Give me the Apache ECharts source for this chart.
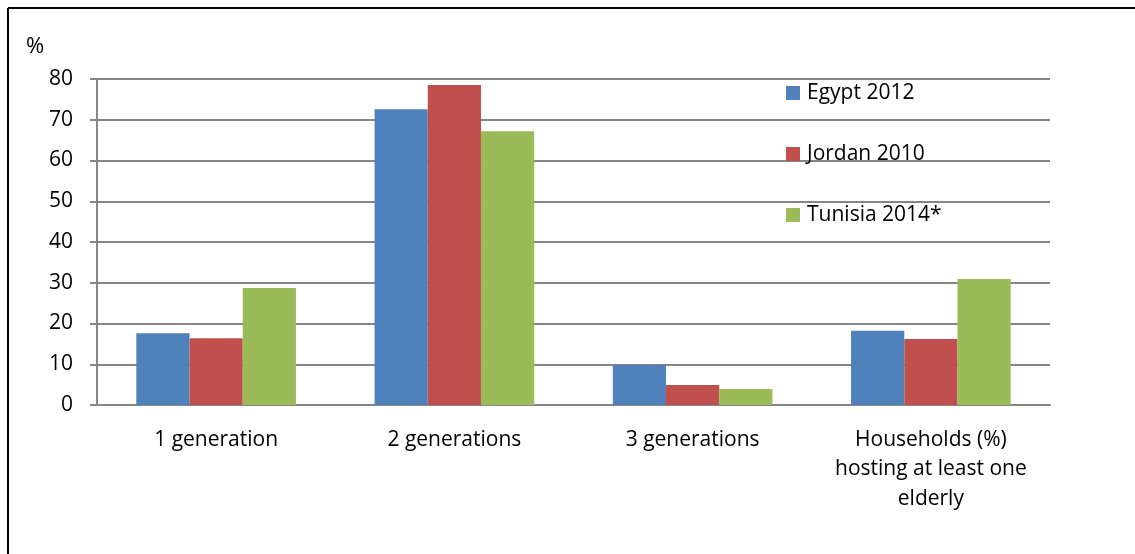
<!DOCTYPE html>
<html>
<head>
<meta charset="utf-8">
<script src="https://cdn.jsdelivr.net/npm/echarts@6/dist/echarts.min.js"></script>
<style>
  html, body { margin: 0; padding: 0; background: #fff; }
  #box { width: 1135px; height: 554px; }
</style>
</head>
<body>
<div id="box"></div>
<script>
  // data
  var categories = ['1 generation', '2 generations', '3 generations', 'Households (%)\nhosting at least one\nelderly'];
  var egypt = [17.6, 72.6, 9.8, 18.2];
  var jordan = [16.4, 78.5, 4.9, 16.2];
  var tunisia = [28.7, 67.2, 3.9, 30.9];
  var yTicks = [0, 10, 20, 30, 40, 50, 60, 70, 80];

  var font = '"Open Sans", Lato, sans-serif';
  var fs = 21;
  var chart = echarts.init(document.getElementById('box'));

  var option = {
    animation: false,
    color: ['#4F81BD', '#C0504D', '#9BBB59'],
    textStyle: { fontFamily: font },
    grid: { left: 97, right: 85, top: 79, bottom: 149, containLabel: false },
    legend: {
      orient: 'vertical',
      left: 786,
      top: 82,
      padding: 0,
      itemWidth: 14,
      itemHeight: 14,
      itemGap: 39,
      icon: 'rect',
      textStyle: { fontSize: fs, lineHeight: 22, color: '#000', fontFamily: font, padding: [0, 0, 0, 2] },
      data: ['Egypt 2012', 'Jordan 2010', 'Tunisia 2014*']
    },
    xAxis: {
      type: 'category',
      data: categories,
      axisLine: { lineStyle: { color: '#868686', width: 2 } },
      axisTick: { show: false },
      axisLabel: { color: '#000', fontSize: fs, margin: 20, lineHeight: 29.5, fontFamily: font, interval: 0 }
    },
    yAxis: {
      type: 'value',
      min: yTicks[0],
      max: yTicks[yTicks.length - 1],
      interval: 10,
      axisLine: { show: true, lineStyle: { color: '#868686', width: 2 } },
      axisTick: { show: true, length: 7, lineStyle: { color: '#868686', width: 2 } },
      axisLabel: { color: '#000', fontSize: fs, margin: 24, fontFamily: font },
      splitLine: { lineStyle: { color: '#868686', width: 2 } }
    },
    series: [
      { name: 'Egypt 2012', type: 'bar', data: egypt, barGap: 0, barCategoryGap: '33%' },
      { name: 'Jordan 2010', type: 'bar', data: jordan, barGap: 0, barCategoryGap: '33%' },
      { name: 'Tunisia 2014*', type: 'bar', data: tunisia, barGap: 0, barCategoryGap: '33%' }
    ],
    graphic: [
      { type: 'line', shape: { x1: 8, y1: 8, x2: 1135, y2: 8 }, style: { stroke: '#000', lineWidth: 2 } },
      { type: 'line', shape: { x1: 8, y1: 8, x2: 8, y2: 554 }, style: { stroke: '#000', lineWidth: 2 } },
      { type: 'text', left: 26, top: 36, style: { text: '%', fontSize: 22, fill: '#000', fontFamily: font } }
    ]
  };

  chart.setOption(option);
</script>
</body>
</html>
